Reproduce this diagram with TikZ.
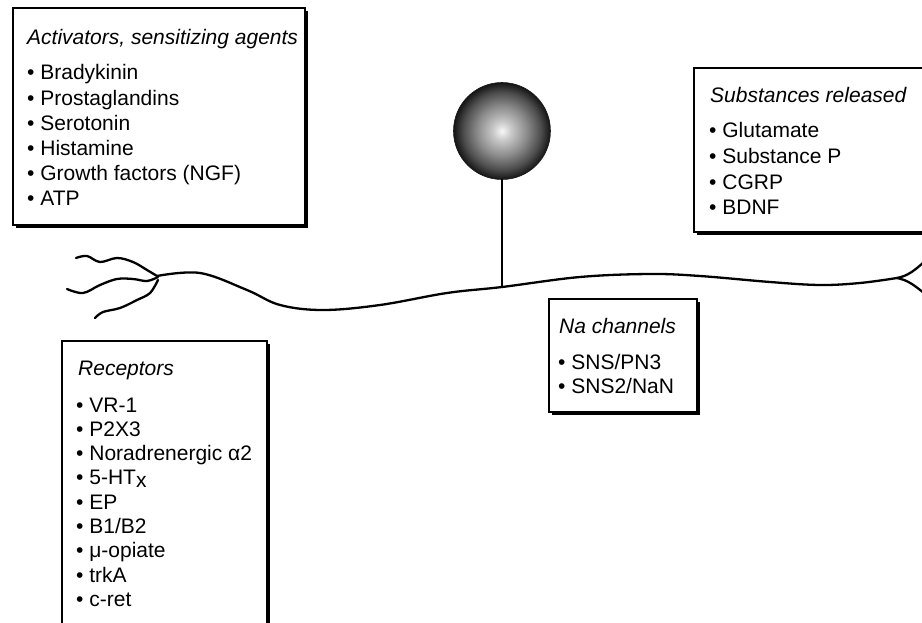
\documentclass[tikz,border=0pt]{standalone}
\usepackage{fontspec}
\setmainfont{Liberation Sans}
\usetikzlibrary{shadows}

% shading of the cell body: bright centre, dark rim
\pgfdeclareradialshading{somashade}{\pgfpoint{0bp}{0bp}}{%
  color(0bp)=(white!97!black); color(5bp)=(black!22);
  color(13bp)=(black!46); color(20bp)=(black!70); color(25bp)=(black!92);
  color(50bp)=(black)}

\tikzset{
  panel/.style={draw, fill=white, line width=1.2pt,
    drop shadow={shadow xshift=2.6pt, shadow yshift=-2.6pt, fill=black, opacity=1}},
  heading/.style={anchor=base west, inner sep=0pt, font=\fontsize{21}{25}\selectfont\itshape},
  entry/.style={anchor=base west, inner sep=0pt, font=\fontsize{21}{25}\selectfont},
  fibre/.style={line width=2.3pt, line cap=round, line join=round},
}

\begin{document}
\begin{tikzpicture}[x=1pt, y=-1pt]
  \useasboundingbox (0,0) rectangle (922,623);
  \clip (0,0) rectangle (922,623);

  % cell body and stem
  \node[circle, minimum size=97pt, inner sep=0pt, shading=somashade,
        draw=black!90, line width=0.6pt] (soma) at (502,131) {};
  \coordinate (stemfoot) at (502,287);
  \draw[fibre] (soma.south) -- (stemfoot);

  % axon with its two ends
  \coordinate (junction) at (157,276);
  \coordinate (fork) at (897,278);
  \draw[fibre] plot[smooth, tension=0.6] coordinates {(157,276) (200,273) (247,290)
      (280,305) (323,310) (380,305) (447,293) (502,287) (580,277) (650,274)
      (700,276) (770,282) (820,285) (860,283) (897,278)};
  % dendrites at the periphery
  \draw[fibre] plot[smooth, tension=0.6] coordinates {(157,276) (147,270) (133,262)
      (117,258) (100,262) (87,256) (76,258)};
  \draw[fibre] plot[smooth, tension=0.6] coordinates {(158,277) (147,281) (133,279)
      (117,279) (100,285) (83,293) (67,289)};
  \draw[fibre] plot[smooth, tension=0.6] coordinates {(158,280) (150,293) (137,300)
      (120,308) (103,312) (95,318)};
  % central terminal
  \draw[fibre] (fork) .. controls (908,276) and (915,270) .. (924,262);
  \draw[fibre] (fork) .. controls (908,280) and (915,286) .. (924,293);

  % activators
  \draw[panel] (13,8) rectangle (305,225);
  \node[heading] (act) at (27,45) {Activators, sensitizing agents};
  \foreach \t [count=\i from 0] in {Bradykinin, Prostaglandins, Serotonin,
      Histamine, Growth factors (NGF), ATP}
    \node[entry] (act\i) at (27,{80+25.2*\i}) {\textbullet\ \t};

  % released substances
  \draw[panel] (694,68) rectangle (940,232);
  \node[heading] (rel) at (710,103) {Substances released};
  \foreach \t [count=\i from 0] in {Glutamate, Substance P, CGRP, BDNF}
    \node[entry] (rel\i) at (709,{138+25.6*\i}) {\textbullet\ \t};

  % sodium channels
  \draw[panel] (549,299) rectangle (697,412);
  \node[heading] (na) at (559,333) {Na channels};
  \foreach \t [count=\i from 0] in {SNS/PN3, SNS2/NaN}
    \node[entry] (na\i) at (558,{369+24.5*\i}) {\textbullet\ \t};

  % receptors
  \draw[panel] (62,341) rectangle (267,650);
  \node[heading] (rec) at (78,375) {Receptors};
  \foreach \t [count=\i from 0] in {VR-1, P2X3, Noradrenergic α2,
      {5-HT\raisebox{-3pt}{x}}, EP, B1/B2, μ-opiate, trkA, c-ret}
    \node[entry] (rec\i) at (76,{412+24.3*\i}) {\textbullet\ \t};
\end{tikzpicture}
\end{document}
